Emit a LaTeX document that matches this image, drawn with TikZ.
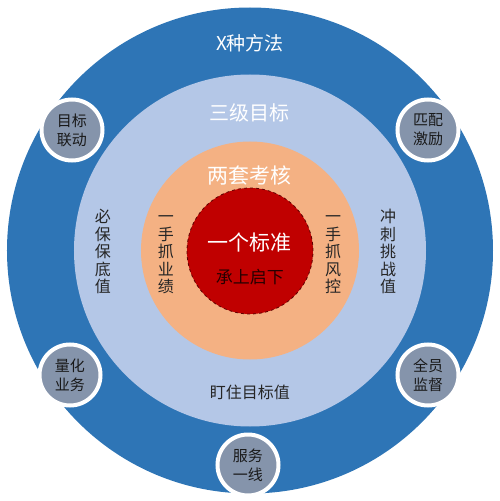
\documentclass[tikz,border=0pt]{standalone}
\usepackage{fontspec}
\setmainfont{Noto Sans CJK SC}
\usetikzlibrary{positioning}
\definecolor{ringblue}{HTML}{2E75B6}
\definecolor{paleblue}{HTML}{B4C7E7}
\definecolor{peach}{HTML}{F4B183}
\definecolor{core}{HTML}{C00000}
\definecolor{badge}{HTML}{8594AB}
\tikzset{
    disc/.style={circle, inner sep=0pt, outer sep=0pt},
    badgecirc/.style={circle, fill=badge, draw=white, line width=4pt,
        minimum size=61pt, inner sep=0pt, align=center,
        font=\fontsize{15}{19}\selectfont, text=black!90},
    title/.style={text=white, inner sep=0pt},
    column/.style={align=center, inner sep=0pt, text=black!85,
        font=\fontsize{16}{17.5}\selectfont}
}

\begin{document}
\begin{tikzpicture}[x=1pt, y=1pt]
        \useasboundingbox (-250,-250.5) rectangle (250,250.5);

        \node (outer) [disc, fill=ringblue, minimum size=486pt] at (0,0) {};
        \node (middle) [disc, fill=paleblue, minimum size=352pt] at (0,0) {};
        \node (inner) [disc, fill=peach, minimum size=218pt] at (0,0) {};
        \node (center) [disc, fill=core, draw=core!50!black, dashed, line width=0.8pt,
            minimum size=126pt] at (0,-0.5) {};

        \node (methods) [title, font=\fontsize{19}{19}\selectfont] at (0,207.5) {X种方法};
        \node (goals) [title, font=\fontsize{20}{20}\selectfont] at (0,137.5) {三级目标};
        \node (checks) [title, font=\fontsize{21}{21}\selectfont] at (0,75.5) {两套考核};
        \node (standard) [title, font=\fontsize{21}{21}\selectfont] at (0,7.5) {一个标准};
        \node (link) [inner sep=0pt, text=black!80!core, font=\fontsize{17}{17}\selectfont,
            below = 16pt of standard] {承上启下};

        \node (perf) [column] at (-84,-4.5) {一\\手\\抓\\业\\绩};
        \node (risk) [column] at (83,-4.5) {一\\手\\抓\\风\\控};
        \node (floor) [column] at (-147,-1) {必\\保\\保\\底\\值};
        \node (sprint) [column] at (138,-1) {冲\\刺\\挑\\战\\值};
        \node (target) [inner sep=0pt, text=black!85, font=\fontsize{16}{16}\selectfont]
            at (0,-141.5) {盯住目标值};

        \node (linkage) [badgecirc] at (-178,120.5) {目标\\联动};
        \node (reward) [badgecirc] at (178,120.5) {匹配\\激励};
        \node (quant) [badgecirc] at (-180,-124.5) {量化\\业务};
        \node (watch) [badgecirc] at (178,-124.5) {全员\\监督};
        \node (service) [badgecirc] at (-2,-214.5) {服务\\一线};
    \end{tikzpicture}
\end{document}
